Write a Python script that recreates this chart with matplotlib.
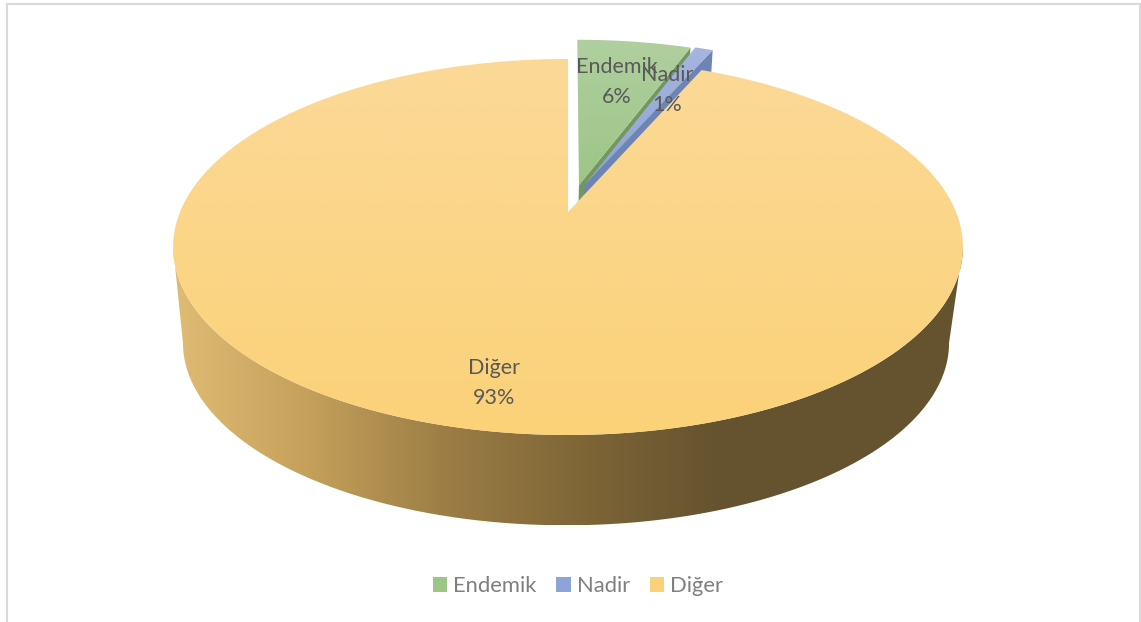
import numpy as np
import matplotlib
matplotlib.use("Agg")
import matplotlib.pyplot as plt
from matplotlib.colors import LinearSegmentedColormap
from matplotlib.patches import Polygon, Patch

# shares (labels round them to 6, 1, 93)
categories = ["Endemik", "Nadir", "Diğer"]
shares = [5.7, 0.9, 93.4]
label_pos = [(617, 82), (667, 90), (494, 383)]
exploded = [0.155, 0.16, 0.0]
explode_dir = [10.8, 16.0]

top_cols = [("#b0cf9f", "#9cc686"), ("#a6b5de", "#8da4d6"), ("#fbd997", "#fbd278")]
strip_cols = ["#74965f", "#6f84b6"]
text_col = "#595959"
legend_col = "#7f7f7f"

plt.rcParams["font.family"] = ["Lato", "DejaVu Sans"]

W, H = 1141, 622
fig = plt.figure(figsize=(W / 100, H / 100), dpi=100)
ax = fig.add_axes([0, 0, 1, 1])
ax.set_xlim(0, W)
ax.set_ylim(H, 0)
ax.axis("off")

# perspective view of the unit circle
CX, CY = 568, 212
A, B, K = 388, 181.5, 0.186
BASE_S, BASE_Y = 0.97, 309


def project(u, v, base=False):
    w = 1 + K * v
    x, h = A * u / w, B * v / w
    if base:
        return CX - 2 + BASE_S * x, BASE_Y - BASE_S * h
    return CX + x, CY - h


def wedge(t0, t1, d=0.0, mid=0.0, base=False):
    t = np.radians(np.linspace(t0, t1, 300))
    ox, oy = d * np.sin(mid), d * np.cos(mid)
    x, y = project(ox + np.sin(t), oy + np.cos(t), base)
    x0, y0 = project(ox, oy, base)
    return np.column_stack([np.r_[x0, x, x0], np.r_[y0, y, y0]])


def gradient(points, cols, vertical=True, zorder=2):
    patch = Polygon(points, closed=True, fc="#fbd278", ec="none", zorder=zorder)
    ax.add_patch(patch)
    cmap = LinearSegmentedColormap.from_list("g", cols)
    ramp = np.linspace(0, 1, 256)
    ramp = ramp[:, None] if vertical else ramp[None, :]
    x0, y0 = points.min(axis=0)
    x1, y1 = points.max(axis=0)
    im = ax.imshow(ramp, cmap=cmap, extent=[x0, x1, y1, y0], aspect="auto", zorder=zorder)
    im.set_clip_path(patch)
    patch.set_facecolor("none")


edges = np.r_[0, np.cumsum(shares)] * 3.6

# exploded slices first, the big slice sits on top of them
for i in [0, 1]:
    t0, t1 = edges[i], edges[i + 1]
    mid = np.radians(explode_dir[i])
    d = exploded[i]
    ox, oy = d * np.sin(mid), d * np.cos(mid)
    a = np.radians(t1)
    line = np.array([0, 1.0])
    # cut face seen from the front, going down to the base
    tx, ty = project(ox + line * np.sin(a), oy + line * np.cos(a))
    bx, by = project(ox + line * np.sin(a), oy + line * np.cos(a), base=True)
    face = np.column_stack([np.r_[tx, bx[::-1]], np.r_[ty, by[::-1]]])
    ax.add_patch(Polygon(face, closed=True, fc=strip_cols[i], ec="none", zorder=1 + i))
    gradient(wedge(t0, t1, d, mid), top_cols[i], zorder=1.5 + i)

# outer wall of the big slice, between the widest points of top and base
t = np.radians(np.linspace(100.7, 259.3, 400))
tx, ty = project(np.sin(t), np.cos(t))
bx, by = project(np.sin(t), np.cos(t), base=True)
wall = np.column_stack([np.r_[tx, bx[::-1]], np.r_[ty, by[::-1]]])
wall_cols = [(0, "#dfbb74"), (0.16, "#c6a25c"), (0.35, "#9b7d44"),
             (0.54, "#7b6336"), (0.69, "#65532f"), (1, "#65532f")]
gradient(wall, wall_cols, vertical=False, zorder=4)

# top of the big slice
gradient(wedge(edges[2], 360), top_cols[2], zorder=5)

for name, share, pos in zip(categories, shares, label_pos):
    ax.text(pos[0], pos[1], f"{name}\n{round(share)}%", ha="center", va="center",
            fontsize=15.5, color=text_col, linespacing=1.65, zorder=8)

handles = [Patch(fc=c[1], ec="none", label=n) for n, c in zip(categories, top_cols)]
ax.legend(handles=handles, loc="center", bbox_to_anchor=(578 / W, 1 - 586 / H),
          ncols=3, frameon=False, fontsize=15.8, labelcolor=legend_col,
          handlelength=0.64, handleheight=0.64, handletextpad=0.28, columnspacing=0.92)

# chart frame
ax.plot([7, 7], [H, 4], color="#d9d9d9", lw=1.5, zorder=9)
ax.plot([7, 1140], [4, 4], color="#d9d9d9", lw=1.5, zorder=9)
ax.plot([1140, 1140], [4, H], color="#d9d9d9", lw=1.5, zorder=9)

fig.savefig("out.png", dpi=100)
